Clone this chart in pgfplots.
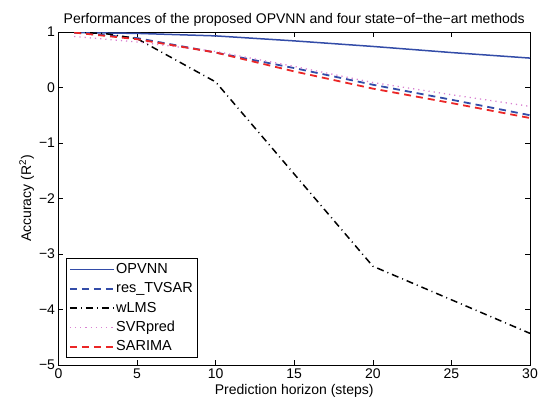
\documentclass[border=0pt]{standalone}
\usepackage{pgfplots}
\pgfplotsset{compat=1.18}
\usepackage{fontspec}
\setmainfont{Liberation Sans}
\definecolor{mblue}{rgb}{0.20,0.30,0.66}
\definecolor{mred}{rgb}{0.92,0.15,0.15}
\definecolor{mpink}{rgb}{0.85,0.50,0.82}
\begin{document}
\begin{tikzpicture}
\begin{axis}[
  at={(0,0)}, anchor=south west,
  scale only axis, width=471.5pt, height=333pt,
  xmin=0, xmax=30, ymin=-5, ymax=1,
  xtick={0,5,...,30}, ytick={-5,-4,...,1},
  yticklabels={−5,−4,−3,−2,−1,0,1},
  tick align=inside, major tick length=5pt,
  tick style={black, line width=0.5pt},
  axis line style={line width=0.8pt},
  /pgf/number format/assume math mode=true,
  ticklabel style={font=\fontsize{14}{16}\selectfont},
  xlabel={Prediction horizon (steps)},
  ylabel={Accuracy (R\textsuperscript{2})},
  label style={font=\fontsize{14}{16}\selectfont},
  xlabel style={yshift=1pt},
  ylabel style={yshift=-2pt},
  title={Performances of the proposed OPVNN and four state−of−the−art methods},
  title style={font=\fontsize{14}{16}\selectfont, yshift=-4pt},
  legend style={at={(0.0153,0.022)}, anchor=south west, draw=black,
    font=\fontsize{14.5}{16}\selectfont, row sep=3.6pt, inner xsep=3pt, inner ysep=3pt,
    nodes={inner xsep=1.5pt}},
  legend cell align=left,
  legend image code/.code={\draw[#1] (0pt,0pt) -- (44pt,0pt);},
]
\addplot[mblue, line width=1.5pt] coordinates {(1,0.99)(5,0.975)(10,0.93)(15,0.84)(20,0.74)(25,0.63)(30,0.53)};
\addlegendentry{OPVNN}
\addplot[mblue, line width=1.8pt, dash pattern=on 7pt off 5pt] coordinates {(1,0.99)(5,0.89)(10,0.63)(15,0.35)(20,0.05)(25,-0.22)(30,-0.50)};
\addlegendentry{res\_TVSAR}
\addplot[black, line width=1.5pt, dash pattern=on 7pt off 4pt on 1pt off 4pt] coordinates {(1,1.0)(3,0.97)(5,0.88)(10,0.1)(20,-3.22)(30,-4.43)};
\addlegendentry{wLMS}
\addplot[mpink, line width=1.3pt, dash pattern=on 1.2pt off 4pt] coordinates {(1,0.92)(5,0.82)(10,0.65)(15,0.38)(20,0.09)(25,-0.13)(30,-0.34)};
\addlegendentry{SVRpred}
\addplot[mred, line width=1.8pt, dash pattern=on 7pt off 5pt] coordinates {(1,0.99)(5,0.87)(10,0.63)(15,0.29)(20,-0.02)(25,-0.28)(30,-0.55)};
\addlegendentry{SARIMA}
\end{axis}
\pgfresetboundingbox
\path[use as bounding box] (-58.5pt,-37pt) rectangle (489.5pt,365pt);
\end{tikzpicture}
\end{document}
